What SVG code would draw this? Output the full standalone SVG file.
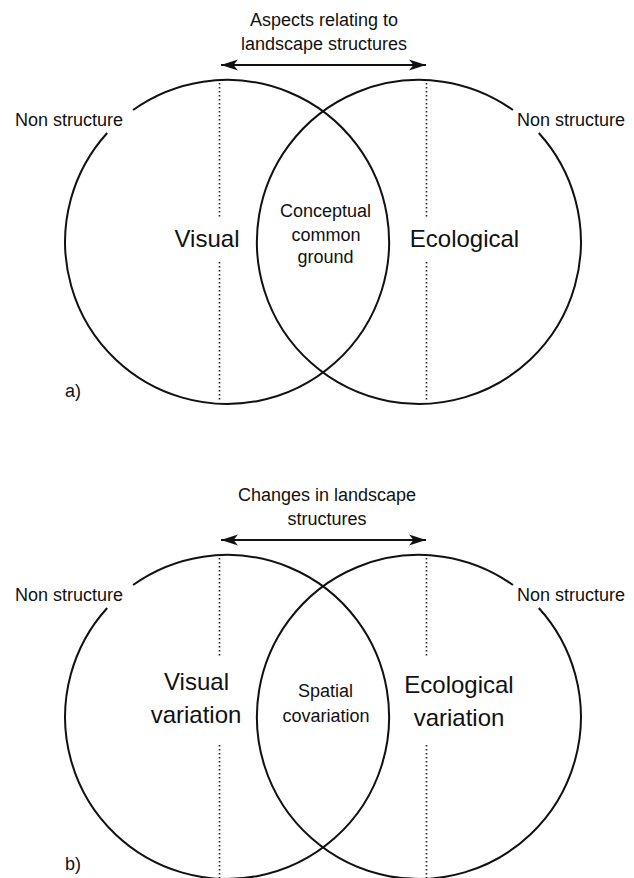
<svg xmlns="http://www.w3.org/2000/svg" width="634" height="878" viewBox="0 0 634 878">
  <style>
    .circle { fill: none; stroke: #111; stroke-width: 2; }
    .dot { fill: none; stroke: #222; stroke-width: 1.6; stroke-dasharray: 1.6 2.4; }
    .arrow { fill: none; stroke: #111; stroke-width: 2; marker-start: url(#head); marker-end: url(#head); }
    text { font-family: "Liberation Sans", Arial, sans-serif; fill: #111; }
    .s { font-size: 18px; }
    .b { font-size: 24px; }
    .m { text-anchor: middle; }
  </style>
  <defs>
    <marker id="head" markerUnits="userSpaceOnUse" viewBox="0 0 18 12" markerWidth="18" markerHeight="12" refX="17" refY="6" orient="auto-start-reverse">
      <path d="M0,0.5 L17,6 L0,11.5 L4.5,6 Z" fill="#111"/>
    </marker>
  </defs>
  <rect width="634" height="878" fill="#fff"/>

  <!-- Diagram a -->
  <g id="a-visual">
    <path class="circle" d="M133.1,110 A162,162 0 1 1 107.2,133"/>
    <line class="dot" x1="219.5" y1="83" x2="219.5" y2="218"/>
    <line class="dot" x1="219.5" y1="262" x2="219.5" y2="401"/>
    <text class="b m" x="207" y="247">Visual</text>
  </g>
  <g id="a-ecological">
    <path class="circle" d="M512.9,110 A162,162 0 1 0 538.8,133"/>
    <line class="dot" x1="426.5" y1="83" x2="426.5" y2="218"/>
    <line class="dot" x1="426.5" y1="262" x2="426.5" y2="401"/>
    <text class="b m" x="464.5" y="247">Ecological</text>
  </g>
  <g id="a-common">
    <text class="s m" x="325.5" y="216.5">Conceptual</text>
    <text class="s m" x="326" y="240.5">common</text>
    <text class="s m" x="325.5" y="263">ground</text>
  </g>
  <g id="a-labels">
    <text class="s m" x="324" y="26">Aspects relating to</text>
    <text class="s m" x="324" y="50">landscape structures</text>
    <text class="s" x="15" y="126">Non structure</text>
    <text class="s" x="517" y="126">Non structure</text>
    <text class="s" x="65" y="397">a)</text>
  </g>

  <!-- Diagram b -->
  <g id="b-visual">
    <path class="circle" d="M133.1,585 A162,162 0 1 1 107.2,608"/>
    <line class="dot" x1="219.5" y1="558" x2="219.5" y2="658"/>
    <line class="dot" x1="219.5" y1="745" x2="219.5" y2="878"/>
    <text class="b m" x="196.5" y="690">Visual</text>
    <text class="b m" x="196" y="723">variation</text>
  </g>
  <g id="b-ecological">
    <path class="circle" d="M512.9,585 A162,162 0 1 0 538.8,608"/>
    <line class="dot" x1="426.5" y1="558" x2="426.5" y2="658"/>
    <line class="dot" x1="426.5" y1="745" x2="426.5" y2="878"/>
    <text class="b m" x="459" y="693">Ecological</text>
    <text class="b m" x="459" y="726">variation</text>
  </g>
  <g id="b-covariation">
    <text class="s m" x="325.6" y="697">Spatial</text>
    <text class="s m" x="326" y="722">covariation</text>
  </g>
  <g id="b-labels">
    <text class="s m" x="327" y="501">Changes in landscape</text>
    <text class="s m" x="327" y="525">structures</text>
    <text class="s" x="15" y="601">Non structure</text>
    <text class="s" x="517" y="601">Non structure</text>
    <text class="s" x="65" y="870">b)</text>
  </g>

  <g id="connectors">
    <line class="arrow" x1="221" y1="65" x2="426" y2="65"/>
    <line class="arrow" x1="221" y1="540" x2="426" y2="540"/>
  </g>
</svg>
